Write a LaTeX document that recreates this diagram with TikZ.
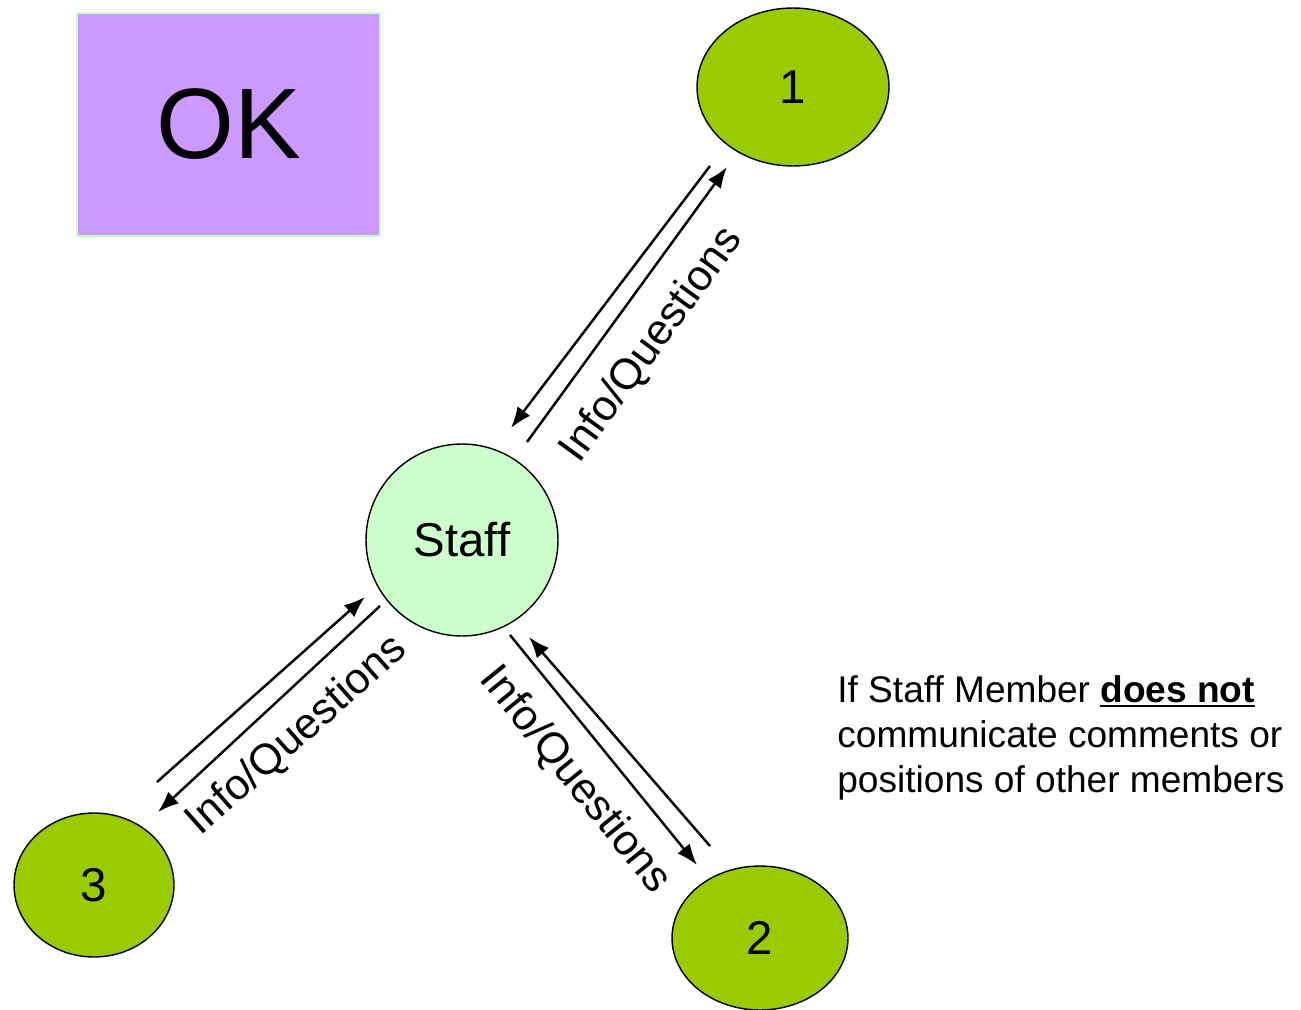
\documentclass[tikz,border=0pt]{standalone}
\usepackage{fontspec}
\setmainfont{Liberation Sans}
\usetikzlibrary{shapes.geometric,arrows.meta}
\definecolor{verde}{HTML}{99CC00}
\definecolor{verdeclaro}{HTML}{CCFFCC}
\definecolor{morado}{HTML}{CC99FF}
\newcommand{\subrayado}[1]{\leavevmode\vtop{\hbox{#1}\kern1.2pt\hrule height 1.5pt}}
\tikzset{
  miembro/.style={ellipse, draw, line width=0.8pt, fill=verde, inner sep=0pt, font=\fontsize{27}{32}\selectfont},
  flecha/.style={line width=1.4pt, -{Latex[length=12pt,width=9pt]}},
  etiqueta/.style={inner sep=0pt, font=\fontsize{24.5}{29}\selectfont}
}
\begin{document}
\begin{tikzpicture}[x=0.02cm,y=-0.02cm]
      \useasboundingbox (0,0) rectangle (1301,1010);

      % cuadro OK
      \node[draw=verdeclaro, line width=1pt, fill=morado, minimum width=6.06cm, minimum height=4.46cm, inner sep=0pt, font=\fontsize{57}{68}\selectfont] (ok) at (228.5,124.5) {OK};

      % nodos
      \node[circle, draw, line width=0.8pt, fill=verdeclaro, minimum size=3.84cm, inner sep=0pt, font=\fontsize{27}{32}\selectfont] (staff) at (462,540) {Staff};
      \node[miembro, minimum width=3.84cm, minimum height=3.16cm] (m1) at (793,87) {1};
      \node[miembro, minimum width=3.52cm, minimum height=2.88cm] (m2) at (760,938) {2};
      \node[miembro, minimum width=3.2cm, minimum height=2.88cm] (m3) at (94,885) {3};

      % extremos de las flechas
      \coordinate (a1) at (527,442); \coordinate (b1) at (727,167);
      \coordinate (c1) at (710,166); \coordinate (d1) at (511,428);
      \coordinate (a2) at (510,635); \coordinate (b2) at (697,865);
      \coordinate (c2) at (710,846); \coordinate (d2) at (529,637);
      \coordinate (a3) at (157,782); \coordinate (b3) at (365,597);
      \coordinate (c3) at (380,606); \coordinate (d3) at (158,812);

      % flechas staff - miembros
      \draw[flecha] (a1) -- (b1); % hacia 1
      \draw[flecha] (c1) -- (d1); % hacia staff
      \draw[flecha] (a2) -- (b2); % hacia 2
      \draw[flecha] (c2) -- (d2); % hacia staff
      \draw[flecha] (a3) -- (b3); % hacia staff
      \draw[flecha] (c3) -- (d3); % hacia 3

      % etiquetas
      \node[etiqueta, rotate=54] (q1) at (652,345) {Info/Questions};
      \node[etiqueta, rotate=-51] (q2) at (575,780) {Info/Questions};
      \node[etiqueta, rotate=41.6] (q3) at (297,736) {Info/Questions};

      % nota
      \node[anchor=base west, align=left, inner sep=0pt, font=\fontsize{21.1}{25.6}\selectfont] (nota) at (837,792) {If Staff Member \subrayado{\textbf{does not}}\\communicate comments or\\positions of other members};

\end{tikzpicture}
\end{document}
